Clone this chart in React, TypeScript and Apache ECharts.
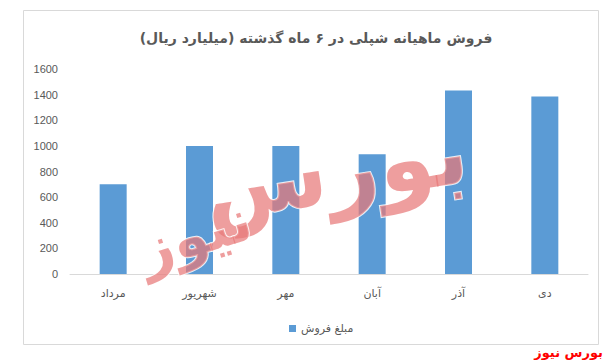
import React, { useEffect, useRef } from "react";
import * as echarts from "echarts";

const categories = ["مرداد", "شهریور", "مهر", "آبان", "آذر", "دی"];
const salesValues = [700, 1000, 1000, 935, 1432, 1386];
const seriesName = "مبلغ فروش";
const titleText = "فروش ماهیانه شپلی در ۶ ماه گذشته (میلیارد ریال)";
const watermarkMain = "بورس";
const watermarkSub = "نیوز";
const sourceText = "بورس نیوز";

export default function App() {
  const ref = useRef<HTMLDivElement>(null);
  useEffect(() => {
    document.body.style.margin = "0";
    const chart = echarts.init(ref.current!, undefined, { renderer: "svg" });
    const wmStyle = {
      fill: "rgba(232,120,120,0.72)",
      stroke: "rgba(255,255,255,0.85)",
      lineWidth: 2,
      fontWeight: "bold",
      fontFamily: "DejaVu Sans",
      textAlign: "center",
      textVerticalAlign: "middle",
    };
    chart.setOption({
      animation: false,
      backgroundColor: "#ffffff",
      grid: { left: 70, right: 19, top: 69, bottom: 89, containLabel: false },
      xAxis: {
        type: "category",
        data: categories,
        axisLine: { lineStyle: { color: "#D9D9D9", width: 1 } },
        axisTick: { show: false },
        axisLabel: {
          color: "#595959",
          fontSize: 11,
          fontFamily: "DejaVu Sans",
          margin: 14,
        },
      },
      yAxis: {
        type: "value",
        min: 0,
        max: 1600,
        interval: 200,
        splitLine: { show: false },
        axisLine: { show: false },
        axisTick: { show: false },
        axisLabel: {
          color: "#595959",
          fontSize: 11,
          fontFamily: "Liberation Sans",
          margin: 12,
          formatter: (v: number) => String(v),
        },
      },
      legend: {
        data: [seriesName],
        left: 284,
        top: 318,
        icon: "rect",
        itemWidth: 7,
        itemHeight: 7,
        itemGap: 6,
        textStyle: { color: "#595959", fontSize: 11, fontFamily: "DejaVu Sans" },
      },
      series: [
        {
          name: seriesName,
          type: "bar",
          data: salesValues,
          barWidth: 27,
          itemStyle: { color: "#5B9BD5" },
        },
      ],
      graphic: [
        {
          type: "rect",
          shape: { x: 23.5, y: 10.5, width: 575, height: 334 },
          style: { fill: "none", stroke: "#D9D9D9", lineWidth: 1 },
          z: -1,
        },
        {
          type: "text",
          x: 316,
          y: 38,
          style: {
            text: titleText,
            fill: "#595959",
            fontSize: 14,
            fontWeight: "bold",
            fontFamily: "DejaVu Sans",
            textAlign: "center",
            textVerticalAlign: "middle",
          },
        },
        {
          type: "text",
          x: 335,
          y: 170,
          rotation: 0.15,
          style: { ...wmStyle, text: watermarkMain, fontSize: 90 },
          z: 100,
        },
        {
          type: "text",
          x: 195,
          y: 235,
          rotation: 0.3,
          style: { ...wmStyle, text: watermarkSub, fontSize: 58 },
          z: 100,
        },
        {
          type: "text",
          x: 603,
          y: 352,
          style: {
            text: sourceText,
            fill: "#FF0000",
            fontSize: 13,
            fontWeight: "bold",
            fontFamily: "DejaVu Sans",
            textAlign: "right",
            textVerticalAlign: "middle",
          },
        },
      ],
    });
    return () => chart.dispose();
  }, []);
  return (
    <div
      ref={ref}
      style={{ position: "absolute", left: 0, top: 0, width: 607, height: 363 }}
    />
  );
}
